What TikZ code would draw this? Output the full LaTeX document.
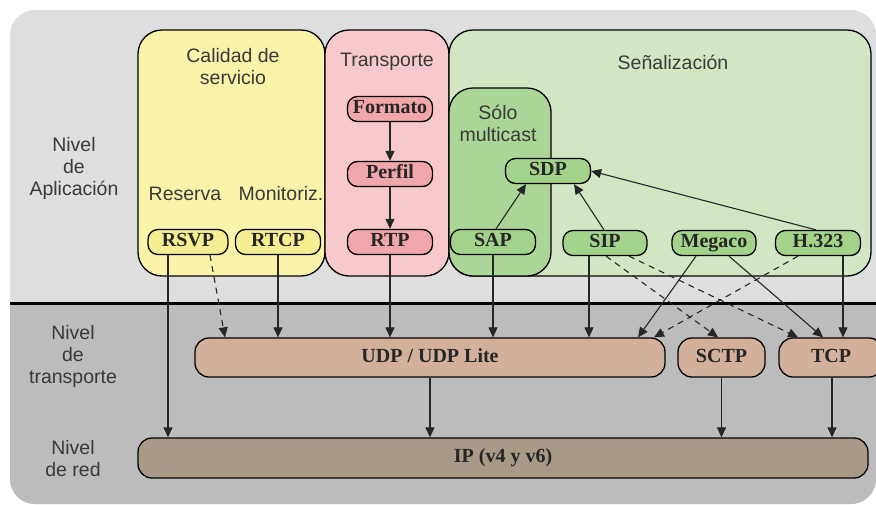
\documentclass[tikz,border=0pt]{standalone}
\usepackage{fontspec}
\setmainfont{Liberation Serif}
\setsansfont{Liberation Sans}
\usetikzlibrary{arrows.meta,positioning}
\definecolor{bgup}{HTML}{DEDEDE}
\definecolor{bglow}{HTML}{BCBCBC}
\definecolor{qosarea}{HTML}{F9F4AA}
\definecolor{qosnode}{HTML}{F5EE92}
\definecolor{rtparea}{HTML}{F8C9CC}
\definecolor{rtpnode}{HTML}{F0A6AA}
\definecolor{sigarea}{HTML}{D2E6C4}
\definecolor{mcarea}{HTML}{ACD598}
\definecolor{signode}{HTML}{A3D28A}
\definecolor{trnode}{HTML}{D2B09C}
\definecolor{ipnode}{HTML}{A89A86}
\definecolor{labelgray}{HTML}{3A3A3A}
\tikzset{layerbox/.style={draw=black,line width=1.3pt,rounded corners=24pt},
 proto/.style={draw=black,line width=1.3pt,rounded corners=10pt,minimum height=25pt,inner sep=0pt,text height=13.5pt,text depth=4pt,font=\fontsize{20}{22}\selectfont\bfseries,text=black!85},
 trbox/.style={proto,rounded corners=14pt,minimum height=39pt,fill=trnode},
 lbl/.style={font=\sffamily\fontsize{19.5}{22}\selectfont,text=labelgray,align=center,inner sep=0pt},
 arr/.style={line width=1.1pt,black!85,-{Triangle[length=10pt,width=9pt]}},
 dasharr/.style={arr,dash pattern=on 6pt off 5pt}}
\begin{document}
\begin{tikzpicture}[x=1pt,y=-1pt]
\useasboundingbox (0,0) rectangle (876,504);
\fill[bgup,rounded corners=25pt] (10,10) rectangle (876,504);
\begin{scope}
 \clip (0,303) rectangle (876,504);
 \fill[bglow,rounded corners=25pt] (10,10) rectangle (876,504);
\end{scope}
\draw[line width=3pt] (10,303) -- (876,303);
% areas of the application level
\draw[layerbox,fill=qosarea] (138,30) rectangle (325,276);
\draw[layerbox,fill=rtparea] (325,30) rectangle (449,276);
\draw[layerbox,fill=sigarea] (449,30) rectangle (871,276);
\draw[layerbox,fill=mcarea] (449,88) rectangle (551,276);
\node[lbl] (qoslbl) at (233,67) {Calidad de\\servicio};
\node[lbl] (rtplbl) at (387,62) {Transporte};
\node[lbl] (siglbl) at (673,62) {Señalización};
\node[lbl] (mclbl) at (498,123) {Sólo\\multicast};
\node[lbl] (reslbl) at (185,194) {Reserva};
\node[lbl] (monlbl) at (281,194) {Monitoriz.};
\node[lbl] (applbl) at (74,168) {Nivel\\de\\Aplicación};
\node[lbl] (trlbl) at (73,356) {Nivel\\de\\transporte};
\node[lbl] (redlbl) at (73,459) {Nivel\\de red};
% protocols
\node[proto,fill=qosnode,minimum width=80pt] (RSVP) at (188,242) {RSVP};
\node[proto,fill=qosnode,minimum width=85pt] (RTCP) at (278,242) {RTCP};
\node[proto,fill=rtpnode,minimum width=85pt] (Formato) at (390,109) {Formato};
\node[proto,fill=rtpnode,minimum width=85pt] (Perfil) at (390,174) {Perfil};
\node[proto,fill=rtpnode,minimum width=85pt] (RTP) at (390,242) {RTP};
\node[proto,fill=signode,minimum width=85pt] (SDP) at (548,171) {SDP};
\node[proto,fill=signode,minimum width=85pt] (SAP) at (493,242) {SAP};
\node[proto,fill=signode,minimum width=84pt] (SIP) at (605,243) {SIP};
\node[proto,fill=signode,minimum width=84pt] (Megaco) at (714,243) {Megaco};
\node[proto,fill=signode,minimum width=85pt] (H323) at (818,243) {H.323};
\node[trbox,minimum width=470pt] (UDP) at (430,357.5) {UDP / UDP Lite};
\node[trbox,minimum width=87pt] (SCTP) at (721.5,357.5) {SCTP};
\node[trbox,minimum width=104pt] (TCP) at (831,357.5) {TCP};
\node[trbox,fill=ipnode,minimum width=730pt,minimum height=40pt] (IP) at (503,458) {IP (v4 y v6)};
% connectors
\draw[arr] (RSVP.south -| 168,0) -- (IP.north -| 168,0);
\draw[dasharr] (RSVP.south -| 210,0) -- (UDP.north -| 225,0);
\draw[arr] (RTCP.south -| 278,0) -- (UDP.north -| 278,0);
\draw[arr] (Formato) -- (Perfil);
\draw[arr] (Perfil) -- (RTP);
\draw[arr] (RTP) -- (UDP.north -| RTP);
\draw[arr] (SAP.north -| 496,0) -- (SDP.south -| 526,0);
\draw[arr] (SAP.south -| 493,0) -- (UDP.north -| 493,0);
\draw[arr] (SIP.north -| 604,0) -- (SDP.south -| 574,0);
\draw[arr] (SIP.south -| 589,0) -- (UDP.north -| 589,0);
\draw[dasharr] (SIP.south -| 606,0) -- (SCTP.north -| 718,0);
\draw[dasharr] (SIP.south -| 629,0) -- (TCP.north -| 798,0);
\draw[arr] (Megaco.south -| 696,0) -- (UDP.north -| 638,0);
\draw[arr] (Megaco.south -| 729,0) -- (TCP.north -| 823,0);
\draw[arr] (H323.north -| 816,0) -- (SDP.east);
\draw[dasharr] (H323.south -| 798,0) -- (UDP.north -| 654,0);
\draw[arr] (H323.south -| 843,0) -- (TCP.north -| 843,0);
\draw[arr] (UDP.south -| 430,0) -- (IP.north -| 430,0);
\draw[arr] (SCTP) -- (IP.north -| SCTP);
\draw[arr] (TCP.south -| 832,0) -- (IP.north -| 832,0);
\end{tikzpicture}
\end{document}
